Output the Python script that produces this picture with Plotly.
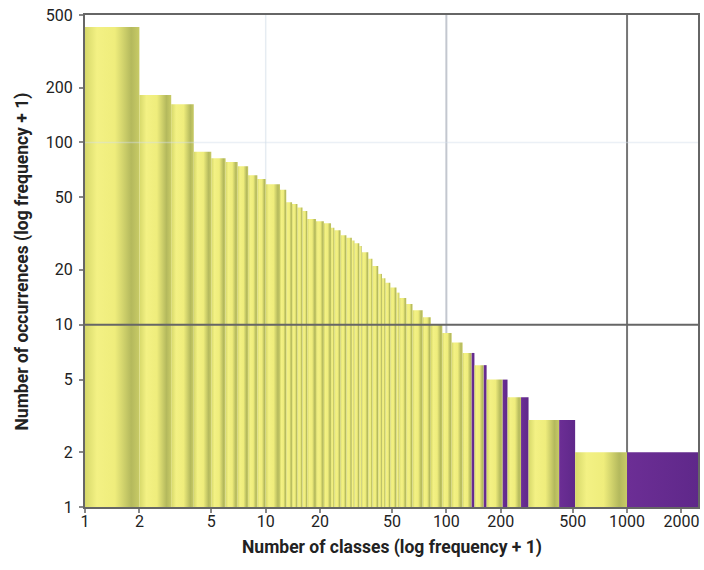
import math
import plotly.graph_objects as go

# ---- data ----
# left edge (class rank) of each step and its height (occurrences)
class_start = [1, 2, 3, 4, 5, 6, 7, 8, 9, 10, 12, 13, 14, 15, 16, 17, 19, 21, 23, 24,
               26, 28, 30, 31, 33, 34, 37, 39, 42, 44, 46, 49, 53, 55, 60, 65, 74, 82,
               95, 107, 123, 143, 167, 218, 285, 516]
occurrences = [430, 182, 162, 89, 82, 78, 74, 66, 63, 59, 55, 47, 46, 44, 42, 38, 37, 36,
               34, 33, 31, 30, 29, 28, 27, 25, 23, 21, 19, 18, 17, 16, 15, 14, 13, 12, 11,
               10, 9, 8, 7, 6, 5, 4, 3, 2]
total_classes = 2470
# purple part of some steps: height -> class rank where purple starts
purple_heights = [7, 6, 5, 4, 3, 2]
purple_start = [138, 161, 205, 259, 421, 1000]

x_ticks = [1, 2, 5, 10, 20, 50, 100, 200, 500, 1000, 2000]
y_ticks = [1, 2, 5, 10, 20, 50, 100, 200, 500]

YELLOW_SCALE = [[0, '#d6d86a'], [0.22, '#f3f184'], [0.55, '#efed7c'],
                [0.85, '#b4b95d'], [1, '#c8cb66']]
PURPLE_SCALE = [[0, '#6c2e95'], [1, '#5f288a']]

fig = go.Figure()

# vertical grid lines (below bars)
for xv, col, w in [(10, '#e6ecf2', 1.5), (100, '#c3c7cf', 2), (1000, '#767676', 2)]:
    fig.add_trace(go.Scatter(x=[xv, xv], y=[1, 500], mode='lines',
                             line=dict(color=col, width=w), hoverinfo='skip',
                             showlegend=False))

purple_map = dict(zip(purple_heights, purple_start))


def rect(x0, x1, h, scale):
    fig.add_trace(go.Scatter(
        x=[x0, x0, x1, x1, x0], y=[1, h, h, 1, 1], mode='lines',
        line=dict(width=0), fill='toself', fillcolor=scale[1][1],
        fillgradient=dict(type='horizontal', colorscale=scale),
        hoverinfo='skip', showlegend=False))


for i, (x0, h) in enumerate(zip(class_start, occurrences)):
    x1 = class_start[i + 1] if i + 1 < len(class_start) else total_classes
    if h in purple_map:
        ps = purple_map[h]
        rect(x0, ps, h, YELLOW_SCALE)
        rect(ps, x1, h, PURPLE_SCALE)
    else:
        rect(x0, x1, h, YELLOW_SCALE)

# horizontal grid lines (above bars)
fig.add_trace(go.Scatter(x=[1, total_classes], y=[100, 100], mode='lines',
                         line=dict(color='rgba(210,222,236,0.45)', width=1.5),
                         hoverinfo='skip', showlegend=False))
fig.add_trace(go.Scatter(x=[1, total_classes], y=[10, 10], mode='lines',
                         line=dict(color='#666666', width=2),
                         hoverinfo='skip', showlegend=False))

FONT = 'Roboto, Liberation Sans, sans-serif'

fig.update_layout(
    width=704, height=570,
    margin=dict(l=85, r=4, t=15, b=63),
    paper_bgcolor='white', plot_bgcolor='white',
    font=dict(family=FONT, color='#222222', size=16),
    xaxis=dict(type='log', range=[0, math.log10(total_classes)],
               tickvals=x_ticks, ticktext=[str(v) for v in x_ticks],
               showgrid=False, zeroline=False, ticks='outside', ticklen=4,
               tickcolor='#888888', tickwidth=2, showline=True, linecolor='#666666',
               linewidth=2, mirror=True, tickfont=dict(size=16),
               ticklabelstandoff=-5),
    yaxis=dict(type='log', range=[0, math.log10(500) + 1e-4],
               tickvals=y_ticks, ticktext=[str(v) for v in y_ticks],
               showgrid=False, zeroline=False, ticks='outside', ticklen=4,
               tickcolor='#888888', tickwidth=2, showline=True, linecolor='#666666',
               linewidth=2, mirror=True, tickfont=dict(size=16),
               ticklabelstandoff=3),
    annotations=[
        dict(text='<b>Number of classes (log frequency + 1)</b>', xref='paper', yref='paper',
             x=0.5, y=-0.083, xanchor='center', yanchor='middle', showarrow=False,
             font=dict(size=17.5, family=FONT)),
        dict(text='<b>Number of occurrences (log frequency + 1)</b>', xref='paper',
             yref='paper', x=-0.102, y=0.5, xanchor='center', yanchor='middle',
             textangle=-90, showarrow=False, font=dict(size=17.5, family=FONT)),
    ],
)

# remove the default page margin so the 704x570 figure fills the window exactly
fig.write_html('out.html',
               config={'displayModeBar': False},
               post_script="document.body.style.margin='0';"
                           "document.body.style.overflow='hidden';")
